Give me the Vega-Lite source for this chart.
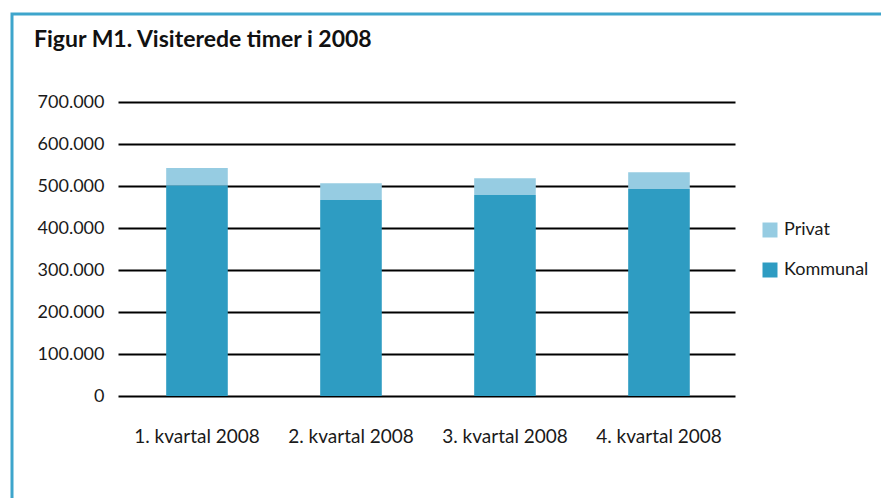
{
  "$schema": "https://vega.github.io/schema/vega-lite/v6.json",
  "width": 924,
  "height": 508,
  "autosize": {"type": "none"},
  "padding": {"left": 12, "top": 14, "right": 0, "bottom": 0},
  "background": "white",
  "title": {
    "text": "Figur M1. Visiterede timer i 2008",
    "anchor": "start",
    "frame": "group",
    "orient": "top",
    "offset": 0,
    "dx": 22,
    "dy": 56,
    "baseline": "alphabetic",
    "font": "Lato",
    "fontSize": 23,
    "fontWeight": "bold",
    "color": "#111111"
  },
  "config": {
    "view": {"stroke": "#3ea5cc", "strokeWidth": 3},
    "font": "Lato",
    "locale": {"number": {"decimal": ",", "thousands": ".", "grouping": [3], "currency": ["", " kr."]}}
  },
  "data": {
    "values": [
      {"kvartal": "1. kvartal 2008", "type": "Kommunal", "timer": 502000},
      {"kvartal": "1. kvartal 2008", "type": "Privat", "timer": 41000},
      {"kvartal": "2. kvartal 2008", "type": "Kommunal", "timer": 467000},
      {"kvartal": "2. kvartal 2008", "type": "Privat", "timer": 40000},
      {"kvartal": "3. kvartal 2008", "type": "Kommunal", "timer": 479000},
      {"kvartal": "3. kvartal 2008", "type": "Privat", "timer": 40000},
      {"kvartal": "4. kvartal 2008", "type": "Kommunal", "timer": 493000},
      {"kvartal": "4. kvartal 2008", "type": "Privat", "timer": 40000}
    ]
  },
  "mark": {"type": "bar", "width": {"band": 0.4}},
  "encoding": {
    "x": {
      "field": "kvartal",
      "type": "nominal",
      "sort": null,
      "scale": {"paddingInner": 0, "paddingOuter": 1, "align": 0.3506, "round": false},
      "axis": {
        "title": null,
        "orient": "bottom",
        "offset": -126,
        "domain": false,
        "ticks": false,
        "labelAngle": 0,
        "labelPadding": 31,
        "labelFontSize": 19,
        "labelColor": "#1a1a1a",
        "labelFont": "Lato"
      }
    },
    "y": {
      "field": "timer",
      "type": "quantitative",
      "stack": "zero",
      "scale": {"domain": [-300000, 910000], "nice": false, "zero": false},
      "axis": {
        "title": null,
        "values": [0, 100000, 200000, 300000, 400000, 500000, 600000, 700000],
        "format": ",.0f",
        "grid": false,
        "domain": false,
        "offset": -723,
        "tickSize": 617,
        "tickWidth": 2,
        "tickColor": "#000000",
        "labelPadding": 14,
        "labelFontSize": 18,
        "labelColor": "#1a1a1a",
        "labelFont": "Lato"
      }
    },
    "color": {
      "field": "type",
      "type": "nominal",
      "scale": {"domain": ["Privat", "Kommunal"], "range": ["#96cce2", "#2e9cc2"]},
      "legend": {
        "title": null,
        "orient": "none",
        "legendX": 749,
        "legendY": 207,
        "symbolType": "square",
        "symbolSize": 225,
        "symbolStrokeWidth": 0,
        "labelFontSize": 18,
        "labelColor": "#1a1a1a",
        "labelFont": "Lato",
        "rowPadding": 22,
        "labelOffset": 5,
        "padding": 0
      }
    },
    "order": {"field": "type", "sort": "ascending"}
  }
}
